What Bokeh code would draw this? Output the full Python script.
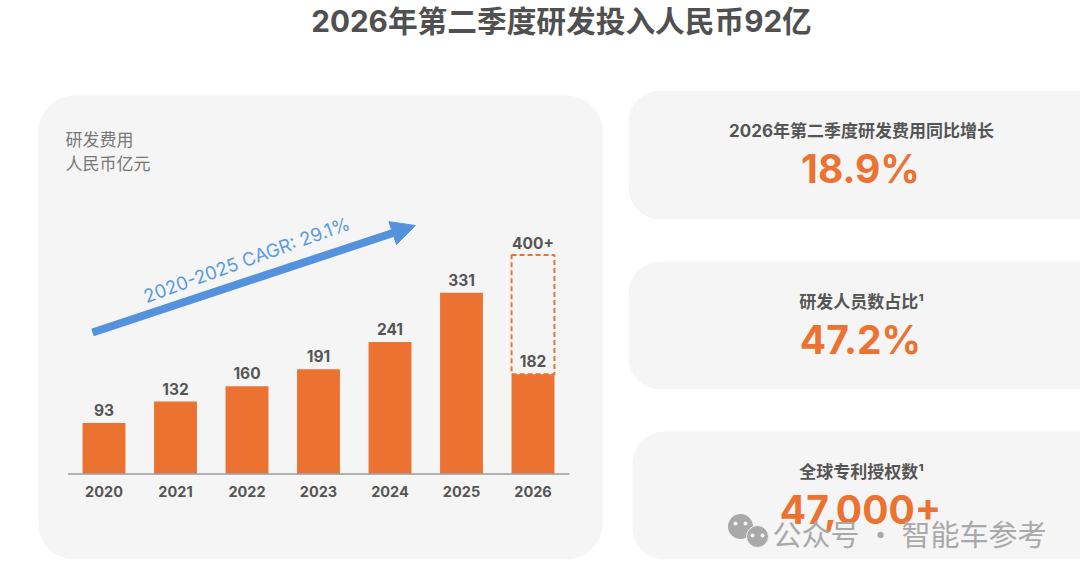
from bokeh.plotting import figure
from bokeh.models import Range1d, ColumnDataSource, Arrow, NormalHead
from bokeh.core.properties import value
from bokeh.embed import file_html
from bokeh.resources import INLINE

years = [2020, 2021, 2022, 2023, 2024, 2025, 2026]
rd_spend = [93, 132, 160, 191, 241, 331, 182]
value_labels = ["93", "132", "160", "191", "241", "331", "182"]
target_2026 = 400
target_label = "400+"
title_text = "2026年第二季度研发投入人民币92亿"
cagr_text = "2020-2025 CAGR: 29.1%"
kpi_titles = ["2026年第二季度研发费用同比增长", "研发人员数占比¹", "全球专利授权数¹"]
kpi_values = ["18.9%", "47.2%", "47,000+"]

ORANGE = "#ec7231"
GREY = "#555555"
CARD = "#f5f5f5"
BLUE = "#5592dd"
FONT = "Inter, 'Noto Sans CJK SC'"
CJK = "Noto Sans CJK SC"

W, H = 1080, 575
PXX = (0, W)
PXY = (H, 0)

# value scales: bar centre = 103.5 + 71.5*(year-2020); bar height = 0.547 px per unit
X0, DX = 103.5, 71.5
Y0, DY = 473.3, 0.547
yr_range = Range1d(2020 + (PXX[0] - X0) / DX, 2020 + (PXX[1] - X0) / DX)
val_range = Range1d((Y0 - PXY[0]) / DY, (Y0 - PXY[1]) / DY)

p = figure(width=W, height=H, output_backend="svg", toolbar_location=None,
           x_range=Range1d(*PXX), y_range=Range1d(*PXY),
           x_axis_type=None, y_axis_type=None, min_border=0,
           background_fill_color="white", border_fill_color="white", outline_line_color=None)
p.grid.visible = False
p.extra_x_ranges = {"yr": yr_range}
p.extra_y_ranges = {"val": val_range}


def label(x, y, text, size, color=GREY, style="normal", align="center", angle=0, font=FONT, alpha=1.0):
    p.text([x], [y], text=[text], text_font=value(font), text_font_size=f"{size}px",
           text_font_style=style, text_color=color, text_align=align,
           text_baseline="middle", angle=angle, text_alpha=alpha)


# cards
p.quad(left=[38], right=[602], top=[95], bottom=[559], fill_color=CARD, line_color=None, border_radius=36)
p.quad(left=[628, 628, 632], right=[1110, 1110, 1110], top=[90, 261, 431], bottom=[219, 389, 559],
       fill_color=CARD, line_color=None, border_radius=32)

label(561, 20, title_text, 29.7, style="bold", color="#505050")
label(65, 138, "研发费用", 17, color="#777777", align="left", font=CJK)
label(65, 162, "人民币亿元", 17, color="#777777", align="left", font=CJK)

# bars
src = ColumnDataSource(dict(year=years, v=rd_spend, lab=value_labels))
p.vbar(x="year", top="v", bottom=0, width=0.6, source=src, fill_color=ORANGE, line_color=None,
       x_range_name="yr", y_range_name="val")
# dashed target box
p.quad(left=[years[-1] - 0.3], right=[years[-1] + 0.3], top=[target_2026], bottom=[rd_spend[-1]],
       fill_color=None, line_color=ORANGE, line_width=2, line_dash="5 3",
       x_range_name="yr", y_range_name="val")
# baseline
p.segment([67.5], [473.5], [569], [473.5], line_color="#9a9a9a", line_width=1.5)

p.text(x="year", y="v", text="lab", source=src, x_range_name="yr", y_range_name="val",
       text_font=value(FONT), text_font_size="15.5px", text_font_style="bold", text_color=GREY,
       text_align="center", text_baseline="middle", y_offset=-13)
p.text([years[-1]], [target_2026], text=[target_label], x_range_name="yr", y_range_name="val",
       text_font=value(FONT), text_font_size="15.5px", text_font_style="bold", text_color=GREY,
       text_align="center", text_baseline="middle", y_offset=-12)
p.text(x=years, y=[0] * len(years), text=[str(y) for y in years], x_range_name="yr", y_range_name="val",
       text_font=value(FONT), text_font_size="14.5px", text_font_style="bold", text_color=GREY,
       text_align="center", text_baseline="middle", y_offset=18)

# CAGR arrow
p.add_layout(Arrow(end=NormalHead(size=24, fill_color=BLUE, line_color=BLUE),
                   x_start=92, y_start=332, x_end=415, y_end=225,
                   line_color=BLUE, line_width=8))
label(246, 259, cagr_text, 18.5, color="#5b9be0", angle=0.348)

# KPI cards
for t, v, cy in zip(kpi_titles, kpi_values, [130, 301, 471]):
    label(861, cy, t, 17, color=GREY, style="bold")
    label(860, cy + 38, v, 39, color=ORANGE, style="bold")

# watermark
WM = "#a9a9a9"
p.scatter([740], [526], size=25, fill_color=WM, line_color=None)
p.scatter([757], [536], size=22, fill_color=WM, line_color="#f5f5f5", line_width=1)
p.scatter([735, 745, 752, 762], [523, 523, 535, 535], size=4, fill_color="#f5f5f5", line_color=None)
label(909, 532, "公众号 · 智能车参考", 29, color=WM, font=CJK)

open("out.html", "w").write(file_html(p, INLINE))
